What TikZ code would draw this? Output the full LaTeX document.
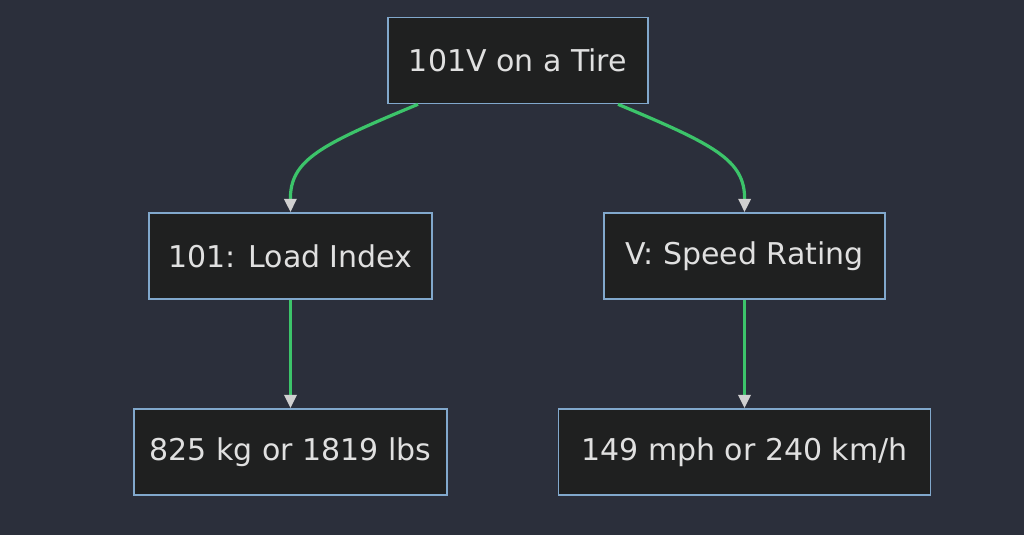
\documentclass[tikz,border=0pt]{standalone}
\usepackage{fontspec}
\setmainfont{DejaVu Sans}
\usetikzlibrary{arrows.meta}
\definecolor{bgcol}{HTML}{2B2F3B}
\definecolor{boxfill}{HTML}{1F2020}
\definecolor{boxline}{HTML}{81A8CC}
\definecolor{linkcol}{HTML}{3CC46A}
\definecolor{tipcol}{HTML}{D0D0D0}
\definecolor{txtcol}{HTML}{E0E0E0}
\tikzset{
  box/.style={rectangle,draw=boxline,fill=boxfill,line width=1.2pt,text=txtcol,
    font=\fontsize{22.5}{26}\selectfont,minimum height=86*0.75pt,inner sep=0pt},
  link/.style={draw=linkcol,line width=2.4pt,-{Triangle[color=tipcol,length=10pt,width=9pt]}}
}
\begin{document}
\begin{tikzpicture}[x=0.75pt,y=-0.75pt]
        % background
        \fill[bgcol] (0,0) rectangle (1024,535);
        \useasboundingbox (0,0) rectangle (1024,535);

        % nodes
        \node[box,minimum width=260*0.75pt] (tire) at (518,60.5) {101V on a Tire};
        \node[box,minimum width=283*0.75pt] (load) at (290.5,256) {101: Load Index};
        \node[box,minimum width=281*0.75pt] (speed) at (744.5,256) {V: Speed Rating};
        \node[box,minimum width=313*0.75pt] (kg) at (290.5,452) {825 kg or 1819 lbs};
        \node[box,minimum width=372*0.75pt] (mph) at (744.5,452) {149 mph or 240 km/h};

        % links
        \coordinate (tl) at ([xshift=-100*0.75pt]tire.south);
        \coordinate (tr) at ([xshift=100*0.75pt]tire.south);
        \draw[link] (tl) .. controls (320,145) and (290,160) .. (load.north);
        \draw[link] (tr) .. controls (715,145) and (745,160) .. (speed.north);
        \draw[link] (load) -- (kg);
        \draw[link] (speed) -- (mph);
\end{tikzpicture}
\end{document}
